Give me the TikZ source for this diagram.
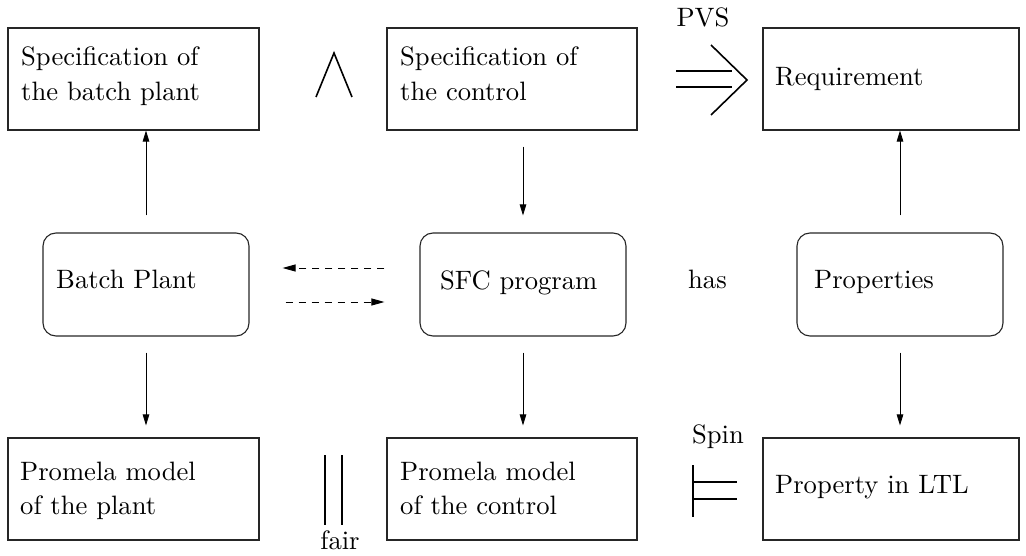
\documentclass[tikz,border=0pt]{standalone}
\usepackage{graphicx}
\usetikzlibrary{arrows.meta,calc}
\newcommand\T[1]{\scalebox{2.66}{#1}}
\newcommand\twolines[2]{\T{\begin{tabular}[t]{@{}l@{}}#1\\#2\end{tabular}}}
\begin{document}
\begin{tikzpicture}[x=1pt,y=-1pt,
  box/.style={draw=black!85, line width=1.1pt, inner sep=0pt},
  rbox/.style={box, rounded corners=13pt},
  txt/.style={inner sep=0pt, anchor=base west, font=\fontsize{10}{12.8}\selectfont},
  lab/.style={inner sep=0pt, anchor=base, font=\fontsize{10}{12.8}\selectfont},
  arr/.style={line width=0.9pt, -{Triangle[length=11pt,width=6.5pt]}},
  darr/.style={arr, dash pattern=on 7pt off 6pt, -{Triangle[length=13pt,width=7pt]}},
  sym/.style={line width=1.6pt}]
\useasboundingbox (0,0) rectangle (1026,556);

% boxes
\node[box, minimum width=251pt, minimum height=102pt] (tl) at (133.5,79) {};
\node[box, minimum width=250pt, minimum height=102pt] (tm) at (512,79) {};
\node[box, minimum width=256pt, minimum height=102pt] (tr) at (891,79) {};
\node[rbox, minimum width=206pt, minimum height=103pt] (ml) at (146,284.5) {};
\node[rbox, minimum width=206pt, minimum height=103pt] (mm) at (523,284.5) {};
\node[rbox, minimum width=206pt, minimum height=103pt] (mr) at (900,284.5) {};
\node[box, minimum width=251pt, minimum height=102pt] (bl) at (133.5,489) {};
\node[box, minimum width=250pt, minimum height=102pt] (bm) at (512,489) {};
\node[box, minimum width=256pt, minimum height=102pt] (br) at (891,489) {};

% texts
\node[txt] (tlt) at (21,66) {\twolines{Specification of}{the batch plant}};
\node[txt] (tmt) at (400,66) {\twolines{Specification of}{the control}};
\node[txt] (trt) at (775,86) {\T{Requirement}};
\node[txt] (mlt) at (56,288) {\T{Batch Plant}};
\node[txt] (mmt) at (440,290) {\T{SFC program}};
\node[txt] (mrt) at (814,288) {\T{Properties}};
\node[txt] (has) at (688,288) {\T{has}};
\node[txt] (blt) at (20,480) {\twolines{Promela model}{of the plant}};
\node[txt] (bmt) at (400,480) {\twolines{Promela model}{of the control}};
\node[txt] (brt) at (775,493) {\T{Property in LTL}};
\node[lab] (pvs) at (703,27) {\T{PVS}};
\node[lab] (spin) at (718,443) {\T{Spin}};
\node[lab] (fair) at (340,549) {\T{fair}};

% arrows
\draw[arr, shorten <=17pt] (ml.north) -- (tl.south -| ml.north);
\draw[arr, shorten <=16pt, shorten >=17pt] (tm.south -| mm.north) -- (mm.north);
\draw[arr, shorten <=17pt] (mr.north) -- (tr.south -| mr.north);
\draw[arr, shorten <=16pt, shorten >=12pt] (ml.south) -- (bl.north -| ml.south);
\draw[arr, shorten <=16pt, shorten >=12pt] (mm.south) -- (bm.north -| mm.south);
\draw[arr, shorten <=16pt, shorten >=12pt] (mr.south) -- (br.north -| mr.south);
\draw[darr, shorten <=35pt, shorten >=33pt] ($(mm.west)+(0,-16.5)$) -- ($(ml.east)+(0,-16.5)$);
\draw[darr, shorten <=36pt, shorten >=35pt] ($(ml.east)+(0,17.5)$) -- ($(mm.west)+(0,17.5)$);

% symbols
\draw[sym] (316,97) -- (334,53) -- (352,97);
\draw[sym] (676,71) -- (732,71) (676,87) -- (732,87);
\draw[sym] (711,45) -- (747,80) -- (711,115);
\draw[sym] (693,465) -- (693,517) (693,482) -- (737,482) (693,499) -- (737,499);
\draw[sym] (325,455) -- (325,525) (342,455) -- (342,525);
\end{tikzpicture}
\end{document}
